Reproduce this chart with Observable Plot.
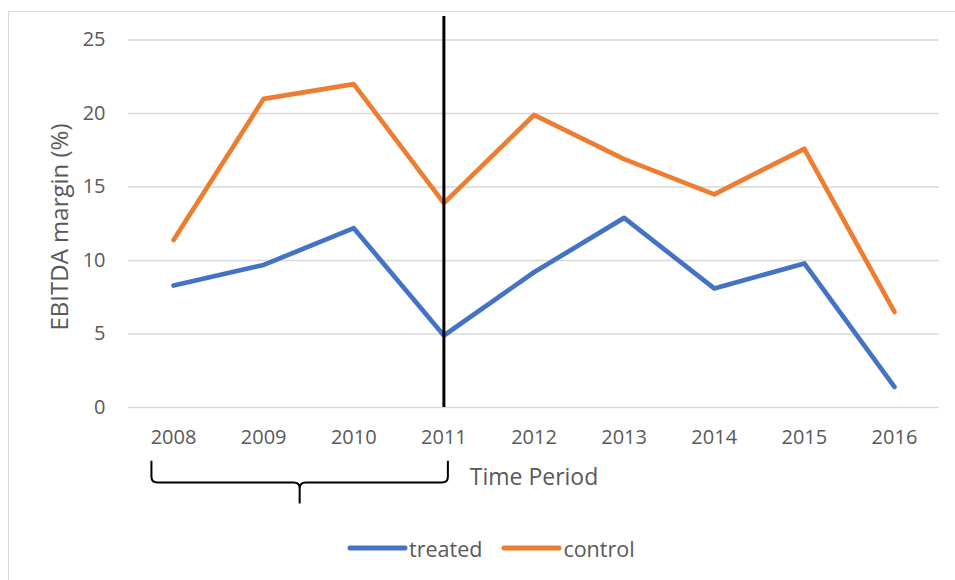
<!DOCTYPE html>
<html>
<head>
<meta charset="utf-8">
<script src="https://cdn.jsdelivr.net/npm/d3@7"></script>
<script src="https://cdn.jsdelivr.net/npm/@observablehq/plot@0.6"></script>
<style>
  html, body { margin: 0; padding: 0; background: #fff; overflow: hidden; }
  #wrap { position: relative; width: 955px; height: 580px; font-family: "Open Sans", sans-serif; color: #595959; }
  #frame { position: absolute; left: 8px; top: 11px; width: 1000px; height: 1000px;
           border-left: 1.5px solid #d9d9d9; border-top: 1.5px solid #d9d9d9; box-sizing: border-box; }
  #chart { position: absolute; left: 0; top: 0; }
  #legend { position: absolute; left: 347px; top: 533px; height: 30px; display: flex; align-items: center; font-size: 21.5px; }
  #legend .item { display: flex; align-items: center; margin-right: 19px; }
  #legend svg { margin-right: 1px; }
</style>
</head>
<body>
<div id="wrap">
  <div id="frame"></div>
  <div id="chart"></div>
  <div id="legend"></div>
</div>
<script>
// EBITDA margin (%) by year for treated and control groups
const years = [2008, 2009, 2010, 2011, 2012, 2013, 2014, 2015, 2016];
const treated = [8.3, 9.7, 12.2, 4.9, 9.2, 12.9, 8.1, 9.8, 1.4];
const control = [11.4, 21.0, 22.0, 13.9, 19.9, 16.9, 14.5, 17.6, 6.5];
const yTicks = [0, 5, 10, 15, 20, 25];
const seriesNames = ["treated", "control"];
const seriesColors = ["#4472C4", "#ED7D31"];
const treatmentYear = 2011;

// Brace under the pre-treatment years (in data units)
const brace = { x1: 2007.76, x2: 2011.05, top: -3.66, mid: -5.13, tip: -6.56 };

const rows = years.flatMap((year, i) => [
  { year, series: "treated", value: treated[i] },
  { year, series: "control", value: control[i] }
]);

const braceMark = (index, scales) => {
  const x = scales.x, y = scales.y;
  const L = x(brace.x1), R = x(brace.x2), C = (L + R) / 2;
  const T = y(brace.top), M = y(brace.mid), B = y(brace.tip);
  const r = 6;
  const p = d3.path();
  p.moveTo(L, T);
  p.lineTo(L, M - r);
  p.quadraticCurveTo(L, M, L + r, M);
  p.lineTo(C - r, M);
  p.quadraticCurveTo(C, M, C, M + r);
  p.lineTo(C, B);
  p.moveTo(C, M + r);
  p.quadraticCurveTo(C, M, C + r, M);
  p.lineTo(R - r, M);
  p.quadraticCurveTo(R, M, R, M - r);
  p.lineTo(R, T);
  const el = document.createElementNS("http://www.w3.org/2000/svg", "path");
  el.setAttribute("d", p.toString());
  el.setAttribute("fill", "none");
  el.setAttribute("stroke", "#000");
  el.setAttribute("stroke-width", "2");
  return el;
};

const chart = Plot.plot({
  width: 955,
  height: 520,
  marginLeft: 128,
  marginRight: 16,
  marginTop: 16,
  marginBottom: 113,
  style: { fontFamily: "Open Sans, sans-serif", fontSize: "20px", color: "#595959", background: "transparent", overflow: "visible" },
  x: { type: "linear", domain: [2007.5, 2016.5], ticks: years, tickFormat: d => String(d), tickSize: 0, tickPadding: 22, label: null },
  y: { domain: [0, 26.6], ticks: yTicks, tickSize: 0, tickPadding: 23, label: null },
  color: { domain: seriesNames, range: seriesColors },
  marks: [
    Plot.ruleY(yTicks, { stroke: "#d9d9d9", strokeWidth: 1.5 }),
    Plot.line(rows, { x: "year", y: "value", z: "series", stroke: "series", strokeWidth: 4.7, strokeLinejoin: "round", strokeLinecap: "round" }),
    Plot.ruleX([treatmentYear], { stroke: "#000", strokeWidth: 3 }),
    Plot.text(["Time Period"], { frameAnchor: "bottom", dy: 70, lineAnchor: "middle", textAnchor: "middle", fill: "#595959", fontSize: 23 }),
    Plot.text(["EBITDA margin (%)"], { frameAnchor: "left", dx: -68, dy: 15, rotate: -90, lineAnchor: "middle", textAnchor: "middle", fill: "#595959", fontSize: 24 }),
    braceMark
  ]
});
document.getElementById("chart").appendChild(chart);

// Legend below the chart
const legend = d3.select("#legend");
seriesNames.forEach((name, i) => {
  const item = legend.append("div").attr("class", "item");
  const sw = item.append("svg").attr("width", 61).attr("height", 10);
  sw.append("line").attr("x1", 3).attr("x2", 58).attr("y1", 5).attr("y2", 5)
    .attr("stroke", seriesColors[i]).attr("stroke-width", 5).attr("stroke-linecap", "round");
  item.append("span").text(name);
});
</script>
</body>
</html>
